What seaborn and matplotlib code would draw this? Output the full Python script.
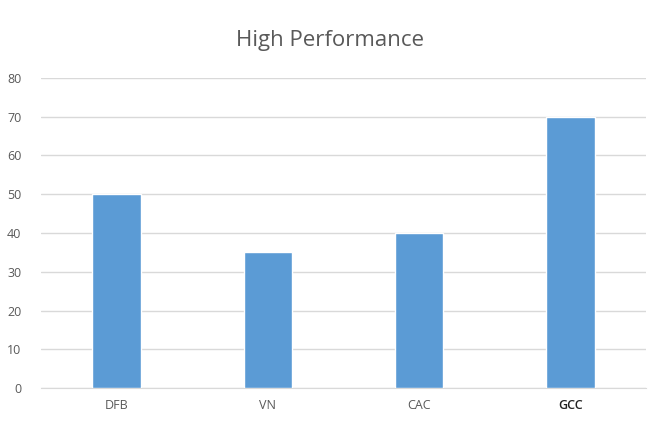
import matplotlib
matplotlib.use('Agg')
import matplotlib.pyplot as plt
import seaborn as sns
import pandas as pd

categories = ['DFB', 'VN', 'CAC', 'GCC']
values = [50, 35, 40, 70]

df = pd.DataFrame({'cat': categories, 'val': values})

sns.set_style('white')
plt.rcParams['font.family'] = ['Open Sans', 'DejaVu Sans']

fig = plt.figure(figsize=(6.59, 4.25), dpi=100)
ax = fig.add_axes([0.0622, 0.087, 0.918, 0.7295])
sns.barplot(data=df, x='cat', y='val', color='#5B9BD5', saturation=1, width=0.32, ax=ax, zorder=3)

ax.set_ylim(0, 80)
ax.set_yticks(range(0, 81, 10))
ax.set_xlim(-0.5, 3.5)
ax.yaxis.grid(True, color='#D9D9D9', linewidth=1, zorder=0)
ax.set_axisbelow(True)
for s in ['top', 'right', 'left']:
    ax.spines[s].set_visible(False)
ax.spines['bottom'].set_color('#D9D9D9')
ax.tick_params(axis='both', length=0, labelsize=9, colors='#595959')
ax.tick_params(axis='y', pad=14)
ax.tick_params(axis='x', pad=8)
ax.get_xticklabels()[3].set_color('#222222')
ax.get_xticklabels()[3].set_fontweight('semibold')
ax.set_xlabel('')
ax.set_ylabel('')
fig.suptitle('High Performance', y=0.93, fontsize=16, color='#595959')

fig.savefig('out.png', dpi=100)
